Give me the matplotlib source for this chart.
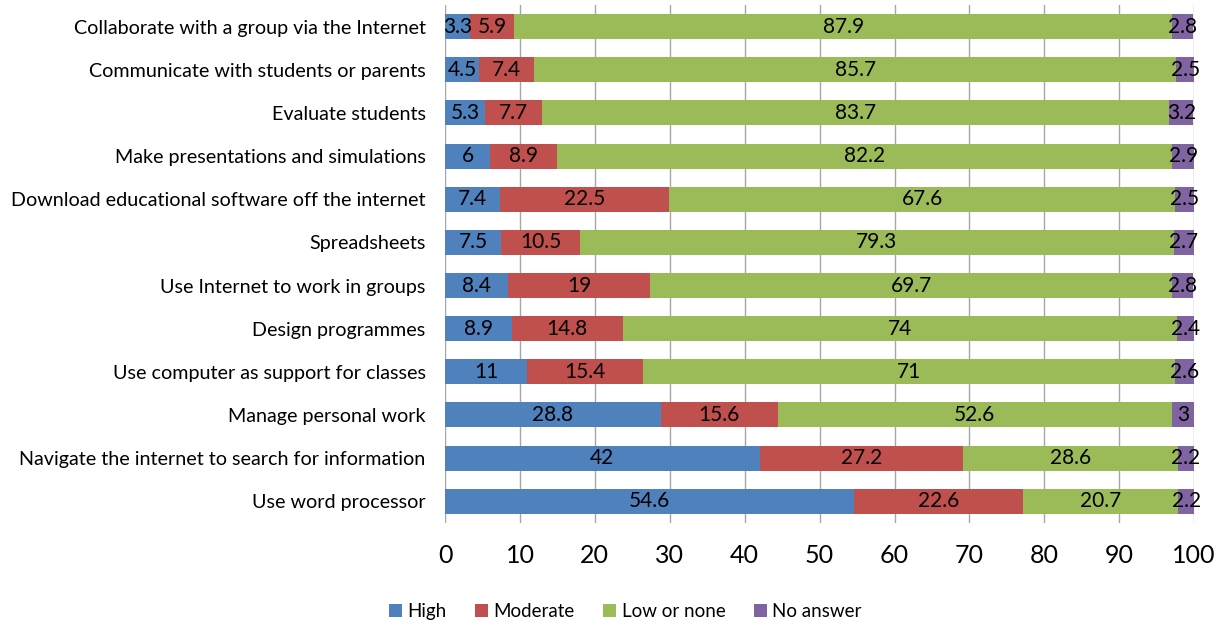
import numpy as np
import matplotlib.pyplot as plt

plt.rcParams['font.family'] = ['Lato', 'DejaVu Sans']

categories = [
    'Collaborate with a group via the Internet',
    'Communicate with students or parents',
    'Evaluate students',
    'Make presentations and simulations',
    'Download educational software off the internet',
    'Spreadsheets',
    'Use Internet to work in groups',
    'Design programmes',
    'Use computer as support for classes',
    'Manage personal work',
    'Navigate the internet to search for information',
    'Use word processor',
]
high = [3.3, 4.5, 5.3, 6, 7.4, 7.5, 8.4, 8.9, 11, 28.8, 42, 54.6]
moderate = [5.9, 7.4, 7.7, 8.9, 22.5, 10.5, 19, 14.8, 15.4, 15.6, 27.2, 22.6]
low = [87.9, 85.7, 83.7, 82.2, 67.6, 79.3, 69.7, 74, 71, 52.6, 28.6, 20.7]
no_answer = [2.8, 2.5, 3.2, 2.9, 2.5, 2.7, 2.8, 2.4, 2.6, 3, 2.2, 2.2]

series = [('High', high, '#4F81BD'), ('Moderate', moderate, '#C0504D'),
          ('Low or none', low, '#9BBB59'), ('No answer', no_answer, '#8064A2')]

fig = plt.figure(figsize=(12.21, 6.21), dpi=100)
ax = fig.add_axes([0.3645, 0.158, 0.6135, 0.834])

y = np.arange(len(categories))
left = np.zeros(len(categories))
for name, vals, color in series:
    vals = np.array(vals, dtype=float)
    ax.barh(y, vals, left=left, height=0.58, color=color, label=name, zorder=2)
    for i, v in enumerate(vals):
        ax.text(left[i] + v / 2, y[i], f'{v:g}', ha='center', va='center',
                fontsize=15, color='black', zorder=3, clip_on=False)
    left += vals

ax.set_xlim(0, 100)
ax.set_ylim(len(categories) - 0.5, -0.5)
ax.set_yticks(y)
ax.set_yticklabels(categories, fontsize=14.2)
ax.set_xticks(np.arange(0, 101, 10))
ax.tick_params(axis='x', labelsize=18, length=0, pad=15)
ax.tick_params(axis='y', length=0, pad=14)
ax.grid(axis='x', color='#A6A6A6', linewidth=1, zorder=0)
for s in ax.spines.values():
    s.set_visible(False)

fig.legend(loc='lower center', bbox_to_anchor=(0.512, -0.025), ncol=4, frameon=False,
           fontsize=13.5, handlelength=0.7, handleheight=0.7, handletextpad=0.3,
           columnspacing=1.5)

fig.savefig('out.png', dpi=100)
